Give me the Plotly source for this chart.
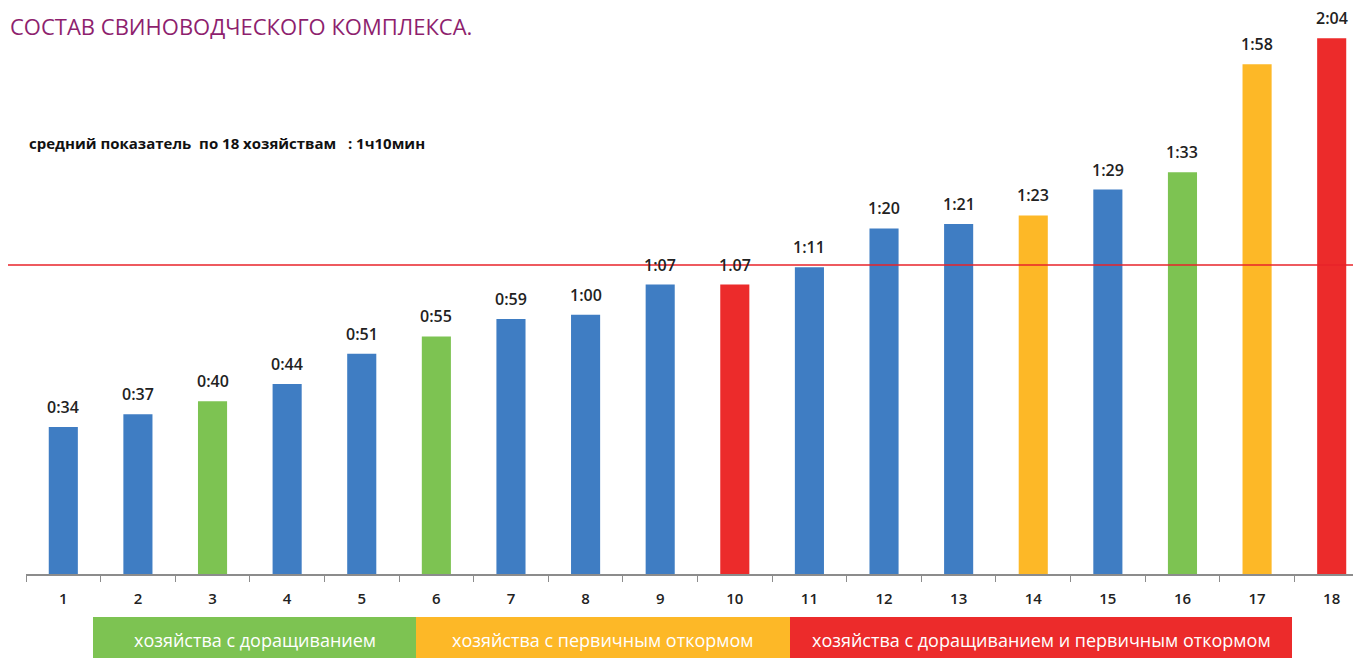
import plotly.graph_objects as go

farms = [str(i) for i in range(1, 19)]
minutes = [34, 37, 40, 44, 51, 55, 59, 60, 67, 67, 71, 80, 81, 83, 89, 93, 118, 124]
value_labels = ["0:34", "0:37", "0:40", "0:44", "0:51", "0:55", "0:59", "1:00", "1:07",
                "1.07", "1:11", "1:20", "1:21", "1:23", "1:29", "1:33", "1:58", "2:04"]
groups = ["base", "base", "grow", "base", "base", "grow", "base", "base", "base",
          "both", "base", "base", "base", "fatten", "base", "grow", "fatten", "both"]
average_line = 71.5

group_colors = {"base": "#3F7DC3", "grow": "#7DC352", "fatten": "#FDB827", "both": "#EC2B2B"}
legend_labels = ["хозяйства с доращиванием", "хозяйства с первичным откормом",
                 "хозяйства с доращиванием и первичным откормом"]
legend_groups = ["grow", "fatten", "both"]

title_text = "СОСТАВ СВИНОВОДЧЕСКОГО КОМПЛЕКСА."
subtitle_text = "средний показатель  по 18 хозяйствам   : 1ч10мин"

# page body has an 8px margin; coordinates below are figure coordinates
W, H = 1361, 658
ml, mr, mt, mb = 18, 0, 0, 92
pw = W - ml - mr
ph = H - mt - mb

fig = go.Figure()
fig.add_trace(go.Bar(
    x=farms, y=minutes,
    marker=dict(color=[group_colors[g] for g in groups], line=dict(width=0)),
    width=0.39,
    showlegend=False, hoverinfo="x+y",
))

# value labels: category axis annotations use the category index
for idx, (v, lab) in enumerate(zip(minutes, value_labels)):
    fig.add_annotation(x=idx, y=v, text=lab, showarrow=False, xanchor="center",
                       yanchor="bottom", yshift=7,
                       font=dict(family="Open Sans", size=16, color="#222222", weight=600))

# average line spanning whole width
fig.add_shape(type="line", xref="paper", yref="y",
              x0=-ml / pw, x1=1.0, y0=average_line, y1=average_line,
              line=dict(color="#E8232A", width=1.5))

# legend boxes
box_px = [(85, 408), (408, 782), (782, 1284)]
y_top = (ph - 609) / ph
y_bot = (ph - 652) / ph
for (a, b), lab, g in zip(box_px, legend_labels, legend_groups):
    x0 = (a - ml) / pw
    x1 = (b - ml) / pw
    fig.add_shape(type="rect", xref="paper", yref="paper", x0=x0, x1=x1, y0=y_bot, y1=y_top,
                  fillcolor=group_colors[g], line=dict(width=0), layer="below")
    fig.add_annotation(xref="paper", yref="paper", x=(x0 + x1) / 2, y=(ph - 632) / ph,
                       text=lab, showarrow=False, xanchor="center", yanchor="middle",
                       font=dict(family="Open Sans", size=18, color="white"))

fig.add_annotation(xref="paper", yref="paper", x=-ml / pw, y=1.0,
                   text=title_text, showarrow=False, xanchor="left", yanchor="top",
                   yshift=-1, font=dict(family="Open Sans", size=22, color="#8E1F6E"))
fig.add_annotation(xref="paper", yref="paper", x=1 / pw, y=(ph - 135) / ph,
                   text=subtitle_text, showarrow=False, xanchor="left", yanchor="middle",
                   font=dict(family="Open Sans", size=15, color="#111111", weight=700))

fig.update_layout(
    width=W, height=H,
    margin=dict(l=ml, r=mr, t=mt, b=mb),
    paper_bgcolor="white", plot_bgcolor="white",
    xaxis=dict(type="category", range=[-0.5, 17.5],
               showline=True, linecolor="#8C8C8C", linewidth=1.5,
               ticks="outside", tickson="boundaries", ticklen=6, tickcolor="#8C8C8C",
               ticklabelstandoff=10,
               tickfont=dict(family="Open Sans", size=15, color="#222222", weight=600),
               showgrid=False, zeroline=False, fixedrange=True),
    yaxis=dict(range=[0, ph / 4.32], visible=False, showgrid=False, zeroline=False,
               fixedrange=True),
)

fig.write_html("out.html")
